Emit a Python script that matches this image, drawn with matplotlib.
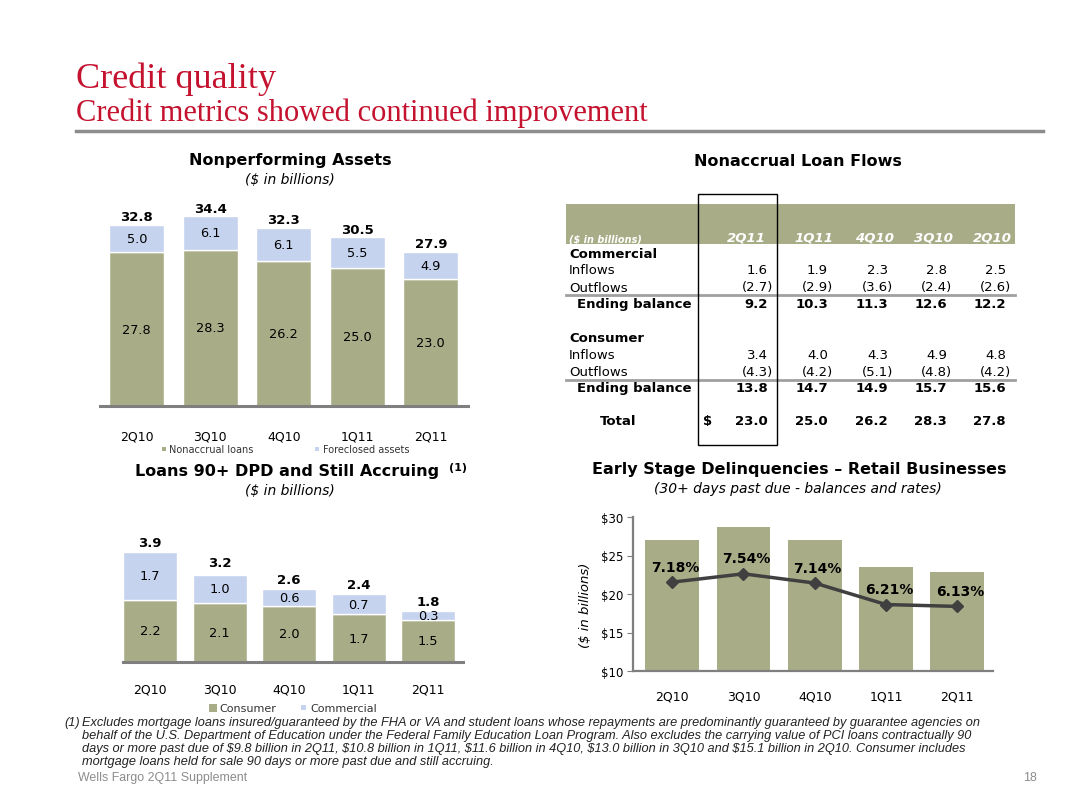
import matplotlib
matplotlib.use("Agg")
import matplotlib.pyplot as plt
from matplotlib.patches import Rectangle
from matplotlib.lines import Line2D

W, H = 1087, 812

quarters = ['2Q10', '3Q10', '4Q10', '1Q11', '2Q11']

# Nonperforming assets ($ in billions)
nonaccrual = [27.8, 28.3, 26.2, 25.0, 23.0]
foreclosed = [5.0, 6.1, 6.1, 5.5, 4.9]
npa_total = [32.8, 34.4, 32.3, 30.5, 27.9]

# Loans 90+ DPD and still accruing
dpd_consumer = [2.2, 2.1, 2.0, 1.7, 1.5]
dpd_commercial = [1.7, 1.0, 0.6, 0.7, 0.3]
dpd_total = [3.9, 3.2, 2.6, 2.4, 1.8]

# Early stage delinquencies (balances, rates labelled)
esd_balance = [27.0, 28.7, 27.0, 23.5, 22.9]
esd_rate = [7.18, 7.54, 7.14, 6.21, 6.13]

# Nonaccrual loan flows table
table_cols = ['2Q11', '1Q11', '4Q10', '3Q10', '2Q10']
com_inflows = [1.6, 1.9, 2.3, 2.8, 2.5]
com_outflows = [-2.7, -2.9, -3.6, -2.4, -2.6]
com_ending = [9.2, 10.3, 11.3, 12.6, 12.2]
con_inflows = [3.4, 4.0, 4.3, 4.9, 4.8]
con_outflows = [-4.3, -4.2, -5.1, -4.8, -4.2]
con_ending = [13.8, 14.7, 14.9, 15.7, 15.6]
flow_total = [23.0, 25.0, 26.2, 28.3, 27.8]

footnote = [
    "Excludes mortgage loans insured/guaranteed by the FHA or VA and student loans whose repayments are predominantly guaranteed by guarantee agencies on",
    "behalf of the U.S. Department of Education under the Federal Family Education Loan Program. Also excludes the carrying value of PCI loans contractually 90",
    "days or more past due of $9.8 billion in 2Q11, $10.8 billion in 1Q11, $11.6 billion in 4Q10, $13.0 billion in 3Q10 and $15.1 billion in 2Q10. Consumer includes",
    "mortgage loans held for sale 90 days or more past due and still accruing.",
]

GREEN = '#A9AD87'
BLUE = '#C5D3EE'
RED = '#C4122F'
GRAY = '#8C8C8C'

plt.rcParams['font.family'] = ['DejaVu Sans']
fig = plt.figure(figsize=(W / 100, H / 100), dpi=100)


def fx(x):
    return x / W


def fy(y):
    return 1 - y / H


def axes_px(x0, y0, x1, y1):
    return fig.add_axes([fx(x0), fy(y1), (x1 - x0) / W, (y1 - y0) / H])


def txt(x, y, s, **kw):
    kw.setdefault('va', 'center')
    return fig.text(fx(x), fy(y), s, **kw)


def hline(x0, x1, y, **kw):
    fig.add_artist(Line2D([fx(x0), fx(x1)], [fy(y), fy(y)], transform=fig.transFigure, **kw))


def square(x, y, s, color):
    fig.add_artist(Rectangle((fx(x), fy(y + s)), s / W, s / H, transform=fig.transFigure,
                             color=color, lw=0))


# ---- header
txt(76, 79, 'Credit quality', fontsize=26, color=RED, family='Liberation Serif')
txt(76, 113, 'Credit metrics showed continued improvement', fontsize=22, color=RED,
    family='Liberation Serif')
hline(76, 1043, 132, color=GRAY, lw=2.5)


def style_bar_axes(ax):
    for s in ['top', 'right', 'left']:
        ax.spines[s].set_visible(False)
    ax.spines['bottom'].set_color('#7F7F7F')
    ax.spines['bottom'].set_linewidth(2.2)
    ax.set_yticks([])
    ax.tick_params(axis='x', length=0, labelsize=9)


# ---- Nonperforming assets
txt(290, 161, 'Nonperforming Assets', fontsize=11.5, fontweight='bold', ha='center')
txt(290, 180, '($ in billions)', fontsize=10, style='italic', ha='center')
ax1 = axes_px(100, 186, 467.5, 407)
x = list(range(len(quarters)))
ax1.bar(x, nonaccrual, width=0.75, color=GREEN, edgecolor='white', lw=1)
ax1.bar(x, foreclosed, width=0.75, bottom=nonaccrual, color=BLUE, edgecolor='white', lw=1)
for i in x:
    ax1.text(i, nonaccrual[i] / 2, f'{nonaccrual[i]:.1f}', ha='center', va='center', fontsize=9.3)
    ax1.text(i, nonaccrual[i] + foreclosed[i] / 2, f'{foreclosed[i]:.1f}', ha='center',
             va='center', fontsize=9.3)
    ax1.annotate(f'{npa_total[i]:.1f}', (i, npa_total[i]), xytext=(0, 1),
                 textcoords='offset points', ha='center', va='bottom', fontsize=9.5,
                 fontweight='bold')
ax1.set_xlim(-0.5, 4.5)
ax1.set_ylim(0, 40)
ax1.set_xticks(x, quarters)
style_bar_axes(ax1)
ax1.tick_params(axis='x', pad=17)
square(162, 448, 4, GREEN)
txt(169, 450, 'Nonaccrual loans', fontsize=7, color='#333333')
square(315, 448, 4, BLUE)
txt(323, 450, 'Foreclosed assets', fontsize=7, color='#333333')

# ---- Loans 90+ DPD
txt(287, 472, 'Loans 90+ DPD and Still Accruing', fontsize=11.5, fontweight='bold', ha='center')
txt(449, 468, '(1)', fontsize=8, fontweight='bold', ha='left')
txt(290, 491, '($ in billions)', fontsize=10, style='italic', ha='center')
ax2 = axes_px(123, 536, 463, 663)
ax2.bar(x, dpd_consumer, width=0.78, color=GREEN, edgecolor='white', lw=1)
ax2.bar(x, dpd_commercial, width=0.78, bottom=dpd_consumer, color=BLUE, edgecolor='white', lw=1)
for i in x:
    ax2.text(i, dpd_consumer[i] / 2, f'{dpd_consumer[i]:.1f}', ha='center', va='center', fontsize=9.3)
    ax2.text(i, dpd_consumer[i] + dpd_commercial[i] / 2, f'{dpd_commercial[i]:.1f}', ha='center',
             va='center', fontsize=9.3)
    ax2.annotate(f'{dpd_total[i]:.1f}', (i, dpd_total[i]), xytext=(0, 2),
                 textcoords='offset points', ha='center', va='bottom', fontsize=9.5,
                 fontweight='bold')
ax2.set_xlim(-0.39, 4.5)
ax2.set_ylim(0, 4.5)
ax2.set_xticks(x, quarters)
style_bar_axes(ax2)
ax2.tick_params(axis='x', pad=15)
square(209, 705, 8, GREEN)
txt(219, 709, 'Consumer', fontsize=8, color='#333333')
square(301, 706, 5, BLUE)
txt(310, 709, 'Commercial', fontsize=8, color='#333333')

# ---- Early stage delinquencies
txt(799, 470, 'Early Stage Delinquencies \u2013 Retail Businesses', fontsize=11.5,
    fontweight='bold', ha='center')
txt(798, 489, '(30+ days past due - balances and rates)', fontsize=10, style='italic',
    ha='center')
ax3 = axes_px(633, 518, 993, 672)
ax3.bar(x, esd_balance, width=0.756, color=GREEN)
ax3.set_xlim(-0.55, 4.5)
ax3.set_ylim(10, 30)
ax3.set_yticks([10, 15, 20, 25, 30], [f'${v}' for v in [10, 15, 20, 25, 30]])
ax3.set_xticks(x, quarters)
for s in ['top', 'right']:
    ax3.spines[s].set_visible(False)
for s in ['left', 'bottom']:
    ax3.spines[s].set_color('#7F7F7F')
    ax3.spines[s].set_linewidth(1.6)
ax3.tick_params(axis='y', length=4, color='#7F7F7F', labelsize=8.5, pad=3)
ax3.tick_params(axis='x', length=0, labelsize=9, pad=13)
ax3.set_ylabel('($ in billions)', style='italic', fontsize=9.5)
ax3.yaxis.set_label_coords(-0.114, 0.43)
ax3b = ax3.twinx()
ax3b.set_ylim(10 / 3, 10)
ax3b.axis('off')
ax3b.plot(x, esd_rate, color='#404040', lw=2.5, marker='D', markersize=6.5)
for i in x:
    ax3b.annotate(f'{esd_rate[i]:.2f}%', (i, esd_rate[i]), xytext=(2, 6),
                  textcoords='offset points', ha='center', va='bottom', fontsize=10,
                  fontweight='bold')

# ---- Nonaccrual loan flows table
txt(798, 161, 'Nonaccrual Loan Flows', fontsize=11.5, fontweight='bold', ha='center')
fig.add_artist(Rectangle((fx(566), fy(245)), (1015 - 566) / W, 40 / H,
                         transform=fig.transFigure, color=GREEN, lw=0))
txt(569, 239, '($ in billions)', fontsize=7, color='white', style='italic', fontweight='bold')
head_x = [746, 814, 875, 933, 992]
col_right = [768, 828, 888, 947, 1006]
for hx, c in zip(head_x, table_cols):
    txt(hx, 238, c, fontsize=9.5, color='white', style='italic', fontweight='bold', ha='center')


def fmt(v):
    return f'({-v:.1f})' if v < 0 else f'{v:.1f}'


rows = [
    ('Commercial', 254, None, True, 569),
    ('Inflows', 271, com_inflows, False, 569),
    ('Outflows', 288, com_outflows, False, 569),
    ('Ending balance', 305, com_ending, True, 577),
    ('Consumer', 339, None, True, 569),
    ('Inflows', 356, con_inflows, False, 569),
    ('Outflows', 373, con_outflows, False, 569),
    ('Ending balance', 389, con_ending, True, 577),
    ('Total', 422, flow_total, True, 600),
]
for label, ry, vals, bold, lx in rows:
    w = 'bold' if bold else 'normal'
    txt(lx, ry, label, fontsize=9.5, fontweight=w)
    if vals is None:
        continue
    for r, v in zip(col_right, vals):
        txt(r + (5 if v < 0 else 0), ry, fmt(v), fontsize=9.5, fontweight=w, ha='right')
txt(708, 422, '$', fontsize=9.5, fontweight='bold', ha='center')
hline(566, 1015, 296, color='#A0A0A0', lw=2)
hline(566, 1015, 381, color='#A0A0A0', lw=2)
fig.add_artist(Rectangle((fx(698), fy(446)), (777 - 698) / W, (446 - 195) / H,
                         transform=fig.transFigure, fill=False, edgecolor='black', lw=1,
                         zorder=5))

# ---- footnote and footer
txt(64, 723, '(1)', fontsize=9.2, style='italic', family='Liberation Sans', color='#222222')
for k, line in enumerate(footnote):
    txt(82, 723 + 13 * k, line, fontsize=9.2, style='italic', family='Liberation Sans',
        color='#222222')
txt(78, 778, 'Wells Fargo 2Q11 Supplement', fontsize=8.9, family='Liberation Sans', color=GRAY)
txt(1037, 778, '18', fontsize=8.9, family='Liberation Sans', color=GRAY, ha='right')

fig.savefig('out.png', dpi=100)
